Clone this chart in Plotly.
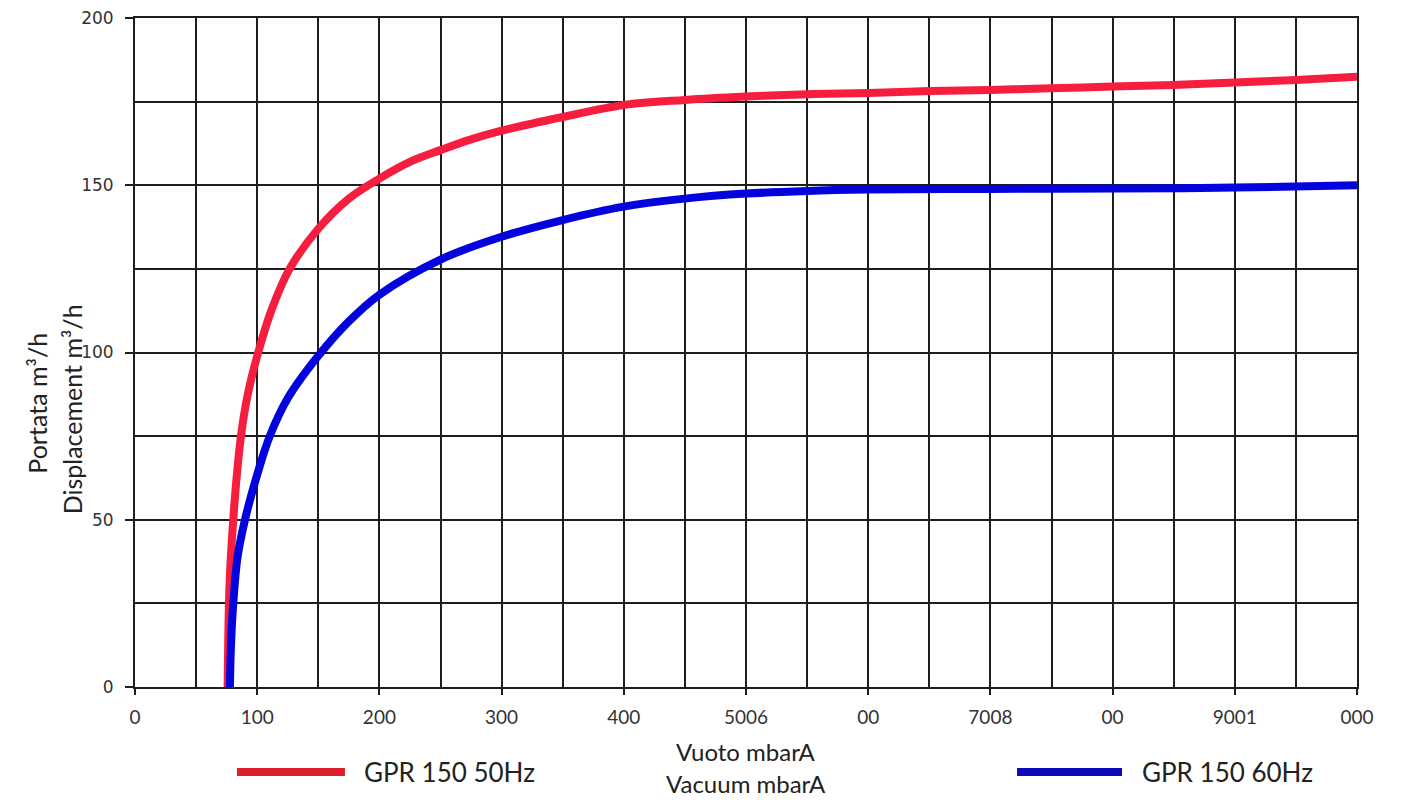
import plotly.graph_objects as go

# Data
x_50hz = [75.8, 76.9, 78, 80.4, 83, 86.7, 92, 100.8, 112, 126.5, 150, 175, 200, 225,
          250, 275, 300, 350, 400, 450, 500, 550, 600, 650, 700, 750, 800, 850, 900, 950, 1000]
y_50hz = [0, 25, 36, 50, 62, 75, 87, 100, 113, 125, 137, 146, 152, 157,
          160.5, 163.7, 166.3, 170.4, 174, 175.5, 176.5, 177.2, 177.6, 178.2, 178.5, 179, 179.5, 180,
          180.7, 181.5, 182.4]

x_60hz = [77.7, 78.5, 80.4, 84, 90, 100, 110.3, 125, 150, 175, 200, 250, 300, 350,
          400, 450, 500, 550, 600, 700, 800, 900, 1000]
y_60hz = [0, 12, 25, 39, 50, 63.5, 75, 86.3, 99, 109.3, 117.3, 127.8, 134.6, 139.6,
          143.6, 146, 147.5, 148.3, 148.7, 148.9, 149, 149.3, 150]

x_tickvals = [0, 100, 200, 300, 400, 500, 600, 700, 800, 900, 1000]
x_ticktext = ["0", "100", "200", "300", "400", "5006", "00", "7008", "00", "9001", "000"]
y_tickvals = [0, 50, 100, 150, 200]
y_ticktext = ["0", "50", "100", "150", "200"]

series_names = ["GPR 150 50Hz", "GPR 150 60Hz"]
x_title = ["Vuoto mbarA", "Vacuum mbarA"]
y_title = ["Portata m\u00b3/h", "Displacement m\u00b3/h"]

RED = "#F51E3F"
BLUE = "#0303DD"
GRID = "#1e1e1e"

fig = go.Figure()
fig.add_trace(go.Scatter(x=x_50hz, y=y_50hz, mode="lines", name=series_names[0],
                         line=dict(color=RED, width=8, shape="spline", smoothing=1.0),
                         showlegend=False))
fig.add_trace(go.Scatter(x=x_60hz, y=y_60hz, mode="lines", name=series_names[1],
                         line=dict(color=BLUE, width=8, shape="spline", smoothing=1.0),
                         showlegend=False))

fig.update_layout(
    width=1414, height=802,
    margin=dict(l=127, r=65, t=10, b=123),
    paper_bgcolor="white", plot_bgcolor="white",
    showlegend=False,
)

fig.update_xaxes(
    range=[0, 1000], automargin=False, ticklabeloverflow="allow",
    tickvals=x_tickvals, ticktext=x_ticktext,
    ticks="outside", ticklen=6, tickwidth=1.5, tickcolor=GRID,
    ticklabelstandoff=6,
    tickfont=dict(family="Lato", size=19, color="#333333"),
    showgrid=True, gridcolor=GRID, gridwidth=1.6,
    minor=dict(dtick=50, tick0=0, showgrid=True, gridcolor=GRID, gridwidth=1.6, ticks=""),
    showline=True, linecolor=GRID, linewidth=1.8, mirror=True,
    zeroline=False,
)
fig.update_yaxes(
    range=[0, 200], automargin=False, ticklabeloverflow="allow",
    tickvals=y_tickvals, ticktext=y_ticktext,
    ticks="outside", ticklen=8, tickwidth=1.5, tickcolor=GRID,
    ticklabelstandoff=8,
    tickfont=dict(family="DejaVu Sans", size=17, color="#333333"),
    showgrid=True, gridcolor=GRID, gridwidth=1.6,
    minor=dict(dtick=25, tick0=0, showgrid=True, gridcolor=GRID, gridwidth=1.6, ticks=""),
    showline=True, linecolor=GRID, linewidth=1.8, mirror=True,
    zeroline=False,
)

xt_font = dict(family="Lato", size=24, color="#222222")
yt_font = dict(family="Lato", size=25, color="#222222")

# Axis titles (positions in paper coordinates relative to the plot area)
fig.add_annotation(text=x_title[0], xref="paper", yref="paper", x=0.5, y=-0.097,
                   showarrow=False, font=xt_font, xanchor="center", yanchor="middle")
fig.add_annotation(text=x_title[1], xref="paper", yref="paper", x=0.5, y=-0.1435,
                   showarrow=False, font=xt_font, xanchor="center", yanchor="middle")
fig.add_annotation(text=y_title[0], xref="paper", yref="paper", x=-0.0802, y=0.425,
                   showarrow=False, font=yt_font, textangle=-90,
                   xanchor="center", yanchor="middle")
fig.add_annotation(text=y_title[1], xref="paper", yref="paper", x=-0.0516, y=0.415,
                   showarrow=False, font=yt_font, textangle=-90,
                   xanchor="center", yanchor="middle")

# Manual legend
leg_y = -0.127
leg_font = dict(family="Lato", size=26, color="#222222")
fig.add_shape(type="line", xref="paper", yref="paper", x0=0.0835, x1=0.1718,
              y0=leg_y, y1=leg_y, line=dict(color="#DC1F2A", width=8))
fig.add_annotation(text=series_names[0], xref="paper", yref="paper", x=0.1858, y=leg_y,
                   showarrow=False, font=leg_font, xanchor="left", yanchor="middle")
fig.add_shape(type="line", xref="paper", yref="paper", x0=0.7218, x1=0.8077,
              y0=leg_y, y1=leg_y, line=dict(color="#0A0AB8", width=8))
fig.add_annotation(text=series_names[1], xref="paper", yref="paper", x=0.8224, y=leg_y,
                   showarrow=False, font=leg_font, xanchor="left", yanchor="middle")

fig.write_html("out.html")
